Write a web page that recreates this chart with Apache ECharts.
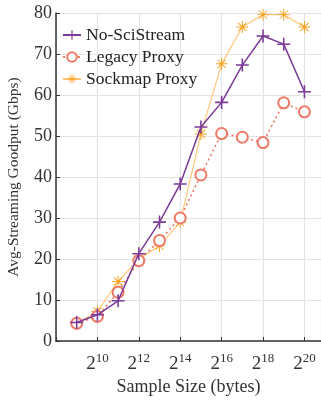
<!DOCTYPE html>
<html><head><meta charset="utf-8">
<script src="https://cdn.jsdelivr.net/npm/echarts@6/dist/echarts.min.js"></script>
<style>html,body{margin:0;padding:0;background:#fff}#c{width:321px;height:400px}</style>
</head><body><div id="c"></div>
<script>
const exponents = [9,10,11,12,13,14,15,16,17,18,19,20];
const noSciStream = [4.5,6.4,9.8,21.3,29.0,38.3,52.2,58.2,67.3,74.4,72.4,60.8];
const legacyProxy = [4.3,6.0,11.9,19.6,24.5,30.0,40.5,50.6,49.7,48.4,58.1,55.9];
const sockmapProxy = [4.3,7.2,14.5,20.0,23.2,29.0,50.5,67.6,76.6,79.6,79.6,76.6];
const xTicks = [10,12,14,16,18,20];
const seriesNames = ['No-SciStream','Legacy Proxy','Sockmap Proxy'];

const plusPath = 'path://M4.4,0H5.6V4.4H10V5.6H5.6V10H4.4V5.6H0V4.4H4.4Z';
const starPath = 'path://M9.2,0H10.8V20H9.2Z M0,9.2H20V10.8H0Z M2.6,3.7L3.7,2.6L17.4,16.3L16.3,17.4Z M16.3,2.6L17.4,3.7L3.7,17.4L2.6,16.3Z';
const serif = '"Liberation Serif","DejaVu Serif",serif';

const chart = echarts.init(document.getElementById('c'));
const pair = arr => exponents.map((e,i)=>[e,arr[i]]);
chart.setOption({
  animation:false,
  grid:{left:56,right:0,top:13,bottom:59,containLabel:false,outerBoundsMode:'none'},
  legend:{
    left:57, top:21, orient:'vertical', itemGap:4, itemWidth:18, itemHeight:12,
    textStyle:{fontFamily:serif,fontSize:17.5,color:'#222'},
    data:seriesNames
  },
  xAxis:{
    type:'value', min:8, max:20.8, interval:2,
    name:'Sample Size (bytes)', nameLocation:'middle', nameGap:37,
    nameTextStyle:{fontFamily:serif,fontSize:18,color:'#333'},
    axisLine:{lineStyle:{color:'#333',width:1.5}},
    axisTick:{inside:true,length:4,lineStyle:{color:'#333'}},
    splitLine:{show:true,lineStyle:{color:'#e3e3e3',width:1.2}},
    axisLabel:{
      showMaxLabel:false, margin:11,
      formatter:v => xTicks.indexOf(v)>=0 ? '{b|2}{s|'+v+'}' : '',
      rich:{
        b:{fontFamily:serif,fontSize:19,color:'#333'},
        s:{fontFamily:serif,fontSize:13,color:'#333',padding:[0,0,11,0]}
      }
    }
  },
  yAxis:{
    type:'value', min:0, max:80, interval:10,
    name:'Avg-Streaming Goodput (Gbps)', nameLocation:'middle', nameGap:34,
    nameTextStyle:{fontFamily:serif,fontSize:15.5,color:'#333'},
    axisLine:{show:true,lineStyle:{color:'#333',width:1.5}},
    axisTick:{show:true,inside:true,length:4,lineStyle:{color:'#333'}},
    splitLine:{show:true,lineStyle:{color:'#e3e3e3',width:1.2}},
    axisLabel:{fontFamily:serif,fontSize:18,color:'#333',margin:4}
  },
  series:[
    {name:seriesNames[2],type:'line',data:pair(sockmapProxy),symbol:starPath,symbolSize:12,
     lineStyle:{color:'#FFC77A',width:1.2},itemStyle:{color:'#F9A21E',borderWidth:0},z:3},
    {name:seriesNames[1],type:'line',data:pair(legacyProxy),symbol:'emptyCircle',symbolSize:11,
     lineStyle:{color:'#EE7A66',width:1.6,type:[2,3]},itemStyle:{color:'#EE7A66',borderColor:'#EE7A66',borderWidth:1.4},z:4},
    {name:seriesNames[0],type:'line',data:pair(noSciStream),symbol:plusPath,symbolSize:13,
     lineStyle:{color:'#7B3A96',width:1.5},itemStyle:{color:'#7B3A96',borderWidth:0},z:5}
  ]
});
</script></body></html>
